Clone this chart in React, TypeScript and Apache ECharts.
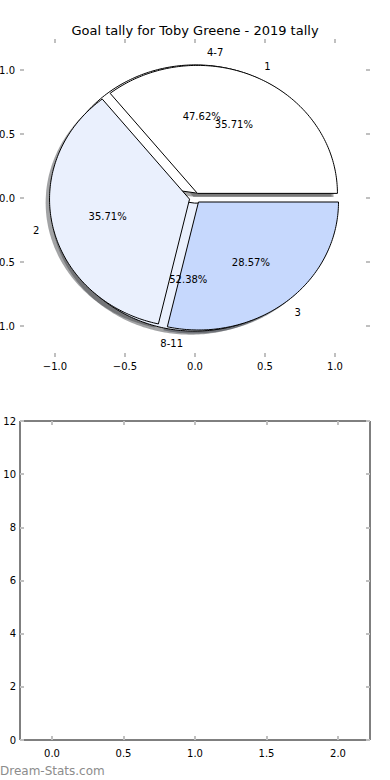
import React, { useEffect, useRef } from 'react';
import * as echarts from 'echarts';

// ---- data ----
const pieLabels = ['1', '2', '3'];
const pieValues = [5, 5, 4];
const innerLabels = ['4-7', '8-11'];
const innerValues = [10, 11];
const pieTicks = [-1.0, -0.5, 0.0, 0.5, 1.0];
const barYTicks = [0, 2, 4, 6, 8, 10, 12];
const barXTicks = [0.0, 0.5, 1.0, 1.5, 2.0];

const TITLE = 'Goal tally for Toby Greene - 2019 tally';
const WATERMARK = 'Dream-Stats.com';

// ---- style ----
const pieColors = ['#ffffff', '#eaf0fd', '#c6d8fd'];
const EXPLODE = 0.04;
const SHADOW = (0.02 * 100) / 72;
const FONT = '"DejaVu Sans", sans-serif';

type Wedge = {
  t1: number; t2: number; mid: number; cx: number; cy: number;
  color: string; label: string; pct: string;
};

function buildWedges(labels: string[], values: number[], explode: number): Wedge[] {
  const total = values.reduce((a, b) => a + b, 0);
  let acc = 0;
  return values.map((v, i) => {
    const t1 = (acc / total) * 360;
    acc += v;
    const t2 = (acc / total) * 360;
    const mid = (((t1 + t2) / 2) * Math.PI) / 180;
    return {
      t1, t2, mid,
      cx: explode * Math.cos(mid),
      cy: explode * Math.sin(mid),
      color: pieColors[i % pieColors.length],
      label: labels[i],
      pct: ((v / total) * 100).toFixed(2) + '%',
    };
  });
}

const innerWedges = buildWedges(innerLabels, innerValues, EXPLODE);
const outerWedges = buildWedges(pieLabels, pieValues, EXPLODE);
const allWedges = [...innerWedges, ...outerWedges];

type Lab = { x: number; y: number; text: string; align: string };
const pieTexts: Lab[] = [];
allWedges.forEach((w) => {
  const lx = w.cx + 1.1 * Math.cos(w.mid);
  const ly = w.cy + 1.1 * Math.sin(w.mid);
  pieTexts.push({ x: lx, y: ly, text: w.label, align: lx > 0 ? 'left' : 'right' });
  pieTexts.push({
    x: w.cx + 0.6 * Math.cos(w.mid),
    y: w.cy + 0.6 * Math.sin(w.mid),
    text: w.pct,
    align: 'center',
  });
});

function hexRgb(h: string) {
  const n = parseInt(h.slice(1), 16);
  return [(n >> 16) & 255, (n >> 8) & 255, n & 255];
}

function wedgePoints(w: Wedge, api: any, dx: number, dy: number) {
  const pts: number[][] = [];
  pts.push(api.coord([w.cx + dx, w.cy + dy]));
  const steps = Math.max(2, Math.ceil(w.t2 - w.t1));
  for (let k = 0; k <= steps; k++) {
    const t = ((w.t1 + ((w.t2 - w.t1) * k) / steps) * Math.PI) / 180;
    pts.push(api.coord([w.cx + dx + Math.cos(t), w.cy + dy + Math.sin(t)]));
  }
  return pts;
}

const fmtPie = (v: number) => (v < 0 ? '\u2212' : '') + Math.abs(v).toFixed(1);

export default function App() {
  const ref = useRef<HTMLDivElement>(null);
  useEffect(() => {
    if (!ref.current) return;
    const chart = echarts.init(ref.current, undefined, { renderer: 'svg' });
    const tick = { show: true, inside: true, length: 4, lineStyle: { color: '#c0c0c0', width: 2 } };
    const noLine = { show: false, onZero: false };
    const lbl = { color: '#000', fontFamily: FONT, fontSize: 10 };
    const g = { containLabel: false, outerBoundsMode: 'none' };
    const option: any = {
      animation: false,
      title: {
        text: TITLE,
        left: 'center',
        top: 19,
        textStyle: { fontFamily: FONT, fontSize: 13, fontWeight: 'normal', color: '#000' },
      },
      graphic: [
        {
          type: 'text',
          left: 0,
          top: 765,
          style: { text: WATERMARK, fill: '#8c8c8c', font: '12px ' + FONT },
        },
      ],
      grid: [
        { ...g, left: 20, top: 38, width: 350, height: 320, show: false },
        { ...g, left: 55, top: 70, width: 280, height: 256, show: false },
        { ...g, left: 20, top: 421, width: 350, height: 319, show: true, borderColor: '#000', borderWidth: 1, backgroundColor: 'transparent' },
        { ...g, left: 52, top: 421, width: 286, height: 319, show: false },
      ],
      xAxis: [
        { gridIndex: 0, type: 'value', min: -1.25, max: 1.25, show: false, axisLine: noLine },
        {
          gridIndex: 1, type: 'value', position: 'bottom', offset: 31,
          min: pieTicks[0], max: pieTicks[pieTicks.length - 1], interval: 0.5,
          axisLine: noLine, axisTick: tick, splitLine: { show: false },
          axisLabel: { ...lbl, margin: 4, formatter: fmtPie },
        },
        {
          gridIndex: 1, type: 'value', position: 'top', offset: 31,
          min: pieTicks[0], max: pieTicks[pieTicks.length - 1], interval: 0.5,
          axisLine: noLine, axisTick: tick, splitLine: { show: false },
          axisLabel: { show: false },
        },
        { gridIndex: 2, type: 'value', min: 0, max: 1, show: false, axisLine: noLine },
        {
          gridIndex: 3, type: 'value', position: 'bottom',
          min: barXTicks[0], max: barXTicks[barXTicks.length - 1], interval: 0.5,
          axisLine: noLine, axisTick: tick, splitLine: { show: false },
          axisLabel: { ...lbl, margin: 8, formatter: (v: number) => v.toFixed(1) },
        },
        {
          gridIndex: 3, type: 'value', position: 'top',
          min: barXTicks[0], max: barXTicks[barXTicks.length - 1], interval: 0.5,
          axisLine: noLine, axisTick: tick, splitLine: { show: false },
          axisLabel: { show: false },
        },
      ],
      yAxis: [
        { gridIndex: 0, type: 'value', min: -1.25, max: 1.25, show: false, axisLine: noLine },
        {
          gridIndex: 1, type: 'value', position: 'left', offset: 35,
          min: pieTicks[0], max: pieTicks[pieTicks.length - 1], interval: 0.5,
          axisLine: noLine, axisTick: tick, splitLine: { show: false },
          axisLabel: { ...lbl, margin: 5, formatter: fmtPie },
        },
        {
          gridIndex: 1, type: 'value', position: 'right', offset: 35,
          min: pieTicks[0], max: pieTicks[pieTicks.length - 1], interval: 0.5,
          axisLine: noLine, axisTick: tick, splitLine: { show: false },
          axisLabel: { show: false },
        },
        {
          gridIndex: 2, type: 'value', position: 'left',
          min: barYTicks[0], max: barYTicks[barYTicks.length - 1], interval: 2,
          axisLine: noLine, axisTick: tick, splitLine: { show: false },
          axisLabel: { ...lbl, margin: 4 },
        },
        {
          gridIndex: 2, type: 'value', position: 'right',
          min: barYTicks[0], max: barYTicks[barYTicks.length - 1], interval: 2,
          axisLine: noLine, axisTick: tick, splitLine: { show: false },
          axisLabel: { show: false },
        },
        { gridIndex: 3, type: 'value', min: 0, max: 1, show: false, axisLine: noLine },
      ],
      series: [
        {
          type: 'custom', name: 'shadows', coordinateSystem: 'cartesian2d',
          xAxisIndex: 0, yAxisIndex: 0, z: 1, silent: true,
          data: allWedges.map(() => [0, 0]),
          renderItem: (params: any, api: any) => {
            const w = allWedges[params.dataIndex];
            const [r, gg, b] = hexRgb(w.color);
            return {
              type: 'polygon',
              shape: { points: wedgePoints(w, api, -SHADOW, -SHADOW) },
              style: {
                fill: `rgba(${Math.round(r * 0.3)},${Math.round(gg * 0.3)},${Math.round(b * 0.3)},0.5)`,
                stroke: 'none',
              },
            };
          },
        },
        {
          type: 'custom', name: 'inner', coordinateSystem: 'cartesian2d',
          xAxisIndex: 0, yAxisIndex: 0, z: 2, silent: true,
          data: innerWedges.map(() => [0, 0]),
          renderItem: (params: any, api: any) => {
            const w = innerWedges[params.dataIndex];
            return {
              type: 'polygon',
              shape: { points: wedgePoints(w, api, 0, 0) },
              style: { fill: w.color, stroke: '#000', lineWidth: 1 },
            };
          },
        },
        {
          type: 'custom', name: 'outer', coordinateSystem: 'cartesian2d',
          xAxisIndex: 0, yAxisIndex: 0, z: 3, silent: true,
          data: outerWedges.map(() => [0, 0]),
          renderItem: (params: any, api: any) => {
            const w = outerWedges[params.dataIndex];
            return {
              type: 'polygon',
              shape: { points: wedgePoints(w, api, 0, 0) },
              style: { fill: w.color, stroke: '#000', lineWidth: 1 },
            };
          },
        },
        {
          type: 'custom', name: 'labels', coordinateSystem: 'cartesian2d',
          xAxisIndex: 0, yAxisIndex: 0, z: 4, silent: true,
          data: pieTexts.map(() => [0, 0]),
          renderItem: (params: any, api: any) => {
            const t = pieTexts[params.dataIndex];
            const p = api.coord([t.x, t.y]);
            return {
              type: 'text',
              x: p[0],
              y: p[1],
              style: {
                text: t.text,
                fill: '#000',
                font: '10px ' + FONT,
                align: t.align,
                textAlign: t.align,
                verticalAlign: 'middle',
                textVerticalAlign: 'middle',
              },
            };
          },
        },
      ],
    };
    chart.setOption(option);
    return () => chart.dispose();
  }, []);
  return (
    <div
      ref={ref}
      style={{ position: 'fixed', left: 0, top: 0, width: 390, height: 780, background: '#fff' }}
    />
  );
}
